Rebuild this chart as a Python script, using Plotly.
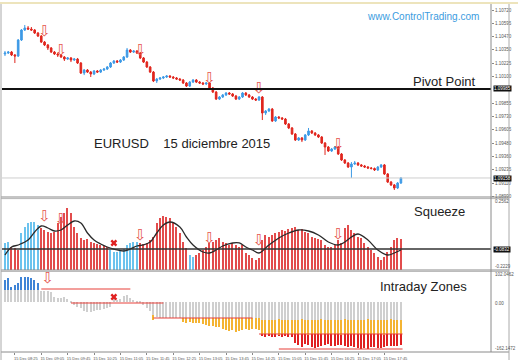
import plotly.graph_objects as go

# ---------------- data ----------------
opens = [
1.10311, 1.10320, 1.10329, 1.10302, 1.10292, 1.10441, 1.10534, 1.10553, 1.10543, 1.10534,
1.10506, 1.10478, 1.10422, 1.10395, 1.10367, 1.10329, 1.10311, 1.10302, 1.10283, 1.10264,
1.10274, 1.10255, 1.10264, 1.10227, 1.10134, 1.10162, 1.10143, 1.10125, 1.10153, 1.10143,
1.10162, 1.10171, 1.10190, 1.10227, 1.10246, 1.10236, 1.10255, 1.10283, 1.10348, 1.10329,
1.10339, 1.10320, 1.10274, 1.10236, 1.10190, 1.10143, 1.10060, 1.10078, 1.10088, 1.10097,
1.10106, 1.10097, 1.10088, 1.10078, 1.10069, 1.10041, 1.10013, 1.10050, 1.10069, 1.10050,
1.10041, 1.10032, 1.10041, 1.09995, 1.09957, 1.09892, 1.09911, 1.09930, 1.09948, 1.09939,
1.09920, 1.09892, 1.09911, 1.09948, 1.09930, 1.09911, 1.09892, 1.09883, 1.09911, 1.09762,
1.09781, 1.09799, 1.09688, 1.09725, 1.09716, 1.09706, 1.09660, 1.09623, 1.09567, 1.09511,
1.09530, 1.09511, 1.09558, 1.09595, 1.09576, 1.09558, 1.09539, 1.09483, 1.09446, 1.09409,
1.09427, 1.09446, 1.09381, 1.09325, 1.09297, 1.09260, 1.09288, 1.09297, 1.09279, 1.09269,
1.09260, 1.09251, 1.09246, 1.09232, 1.09260, 1.09279, 1.09195, 1.09120, 1.09093, 1.09065,
1.09111]
highs = [
1.10339, 1.10339, 1.10339, 1.10311, 1.10450, 1.10543, 1.10581, 1.10571, 1.10562, 1.10543,
1.10515, 1.10487, 1.10432, 1.10404, 1.10376, 1.10339, 1.10320, 1.10311, 1.10292, 1.10283,
1.10283, 1.10274, 1.10274, 1.10236, 1.10171, 1.10171, 1.10153, 1.10162, 1.10162, 1.10171,
1.10181, 1.10199, 1.10236, 1.10255, 1.10255, 1.10264, 1.10292, 1.10367, 1.10357, 1.10348,
1.10348, 1.10329, 1.10283, 1.10246, 1.10199, 1.10153, 1.10088, 1.10097, 1.10106, 1.10115,
1.10115, 1.10106, 1.10097, 1.10088, 1.10078, 1.10050, 1.10060, 1.10078, 1.10078, 1.10060,
1.10050, 1.10050, 1.10050, 1.10004, 1.09967, 1.09920, 1.09939, 1.09957, 1.09957, 1.09948,
1.09930, 1.09920, 1.09957, 1.09957, 1.09939, 1.09920, 1.09902, 1.09920, 1.09920, 1.09790,
1.09809, 1.09809, 1.09734, 1.09734, 1.09725, 1.09716, 1.09669, 1.09632, 1.09576, 1.09539,
1.09539, 1.09567, 1.09623, 1.09604, 1.09585, 1.09567, 1.09548, 1.09492, 1.09455, 1.09437,
1.09455, 1.09455, 1.09390, 1.09334, 1.09306, 1.09306, 1.09316, 1.09306, 1.09288, 1.09279,
1.09269, 1.09260, 1.09255, 1.09269, 1.09288, 1.09288, 1.09204, 1.09130, 1.09102, 1.09120,
1.09167]
lows = [
1.10292, 1.10311, 1.10292, 1.10227, 1.10283, 1.10432, 1.10525, 1.10534, 1.10525, 1.10497,
1.10469, 1.10413, 1.10385, 1.10348, 1.10320, 1.10302, 1.10283, 1.10274, 1.10246, 1.10255,
1.10236, 1.10246, 1.10218, 1.10125, 1.10115, 1.10134, 1.10097, 1.10115, 1.10134, 1.10134,
1.10153, 1.10162, 1.10181, 1.10218, 1.10227, 1.10227, 1.10246, 1.10274, 1.10320, 1.10320,
1.10311, 1.10264, 1.10227, 1.10181, 1.10134, 1.10050, 1.10041, 1.10069, 1.10078, 1.10088,
1.10088, 1.10078, 1.10069, 1.10060, 1.10032, 1.10004, 1.10004, 1.10041, 1.10041, 1.10032,
1.10022, 1.10022, 1.09985, 1.09948, 1.09883, 1.09883, 1.09902, 1.09920, 1.09930, 1.09911,
1.09883, 1.09883, 1.09902, 1.09920, 1.09902, 1.09883, 1.09874, 1.09874, 1.09697, 1.09744,
1.09771, 1.09679, 1.09679, 1.09706, 1.09697, 1.09651, 1.09613, 1.09558, 1.09502, 1.09502,
1.09492, 1.09502, 1.09548, 1.09567, 1.09548, 1.09530, 1.09474, 1.09372, 1.09400, 1.09400,
1.09418, 1.09372, 1.09316, 1.09288, 1.09251, 1.09158, 1.09279, 1.09269, 1.09260, 1.09251,
1.09241, 1.09237, 1.09223, 1.09223, 1.09251, 1.09186, 1.09111, 1.09083, 1.09046, 1.09055,
1.09102]
closes = [
1.10320, 1.10329, 1.10302, 1.10292, 1.10441, 1.10534, 1.10553, 1.10543, 1.10534, 1.10506,
1.10478, 1.10422, 1.10395, 1.10367, 1.10329, 1.10311, 1.10302, 1.10283, 1.10264, 1.10274,
1.10255, 1.10264, 1.10227, 1.10134, 1.10162, 1.10143, 1.10125, 1.10153, 1.10143, 1.10162,
1.10171, 1.10190, 1.10227, 1.10246, 1.10236, 1.10255, 1.10283, 1.10348, 1.10329, 1.10339,
1.10320, 1.10274, 1.10236, 1.10190, 1.10143, 1.10060, 1.10078, 1.10088, 1.10097, 1.10106,
1.10097, 1.10088, 1.10078, 1.10069, 1.10041, 1.10013, 1.10050, 1.10069, 1.10050, 1.10041,
1.10032, 1.10041, 1.09995, 1.09957, 1.09892, 1.09911, 1.09930, 1.09948, 1.09939, 1.09920,
1.09892, 1.09911, 1.09948, 1.09930, 1.09911, 1.09892, 1.09883, 1.09911, 1.09762, 1.09781,
1.09799, 1.09688, 1.09725, 1.09716, 1.09706, 1.09660, 1.09623, 1.09567, 1.09511, 1.09530,
1.09511, 1.09558, 1.09595, 1.09576, 1.09558, 1.09539, 1.09483, 1.09446, 1.09409, 1.09427,
1.09446, 1.09381, 1.09325, 1.09297, 1.09260, 1.09288, 1.09297, 1.09279, 1.09269, 1.09260,
1.09251, 1.09246, 1.09232, 1.09260, 1.09279, 1.09195, 1.09120, 1.09093, 1.09065, 1.09111,
1.09158]

pivot_level = 1.09985
price_ticks = [1.10720, 1.10595, 1.10470, 1.10350, 1.10225, 1.10100, 1.09855,
               1.09730, 1.09605, 1.09480, 1.09360, 1.09235, 1.09110, 1.08990]

time_tick_bars = [3, 11, 19, 27, 35, 43, 51, 59, 67, 75, 83, 91, 99, 107, 115]
time_tick_labels = ["15 Dec 08:25", "15 Dec 09:05", "15 Dec 09:45", "15 Dec 10:25",
                    "15 Dec 11:05", "15 Dec 11:45", "15 Dec 12:25", "15 Dec 13:05",
                    "15 Dec 13:45", "15 Dec 14:25", "15 Dec 15:05", "15 Dec 15:45",
                    "15 Dec 16:25", "15 Dec 17:05", "15 Dec 17:45"]

# Squeeze oscillator
squeeze_min, squeeze_max = -0.2229, 0.2562
squeeze_level = -0.0832
squeeze_vals = [
-0.0432, -0.0366, -0.0698, -0.0765, -0.0898, 0.0233, 0.0632, 0.0898, 0.0965, 0.0965,
0.0765, 0.0566, 0.0433, 0.0300, 0.0233, 0.0300, 0.0898, 0.1298, 0.1564, 0.1897,
0.1564, 0.0632, 0.0233, -0.0100, -0.0233, -0.0166, -0.0366, -0.0432, -0.0499, -0.0565,
-0.0632, -0.0698, -0.0898, -0.1031, -0.1031, -0.0965, -0.0832, -0.0565, -0.0432, -0.0366,
-0.0366, -0.0432, -0.0499, -0.0432, -0.0233, -0.0033, 0.0898, 0.1231, 0.1364, 0.1298,
0.1231, 0.0965, 0.0632, 0.0233, -0.0366, -0.0765, -0.1231, -0.1364, -0.1231, -0.1098,
-0.0898, -0.0698, -0.0432, -0.0366, -0.0233, -0.0100, -0.0366, -0.0432, -0.0565, -0.0432,
-0.0565, -0.0698, -0.0565, -0.1098, -0.1231, -0.1430, -0.1563, -0.1430, -0.0233, 0.0100,
-0.0033, 0.0100, 0.0233, 0.0300, 0.0433, 0.0366, 0.0499, 0.0566, 0.0632, 0.0433,
0.0499, 0.0300, 0.0233, -0.0033, -0.0100, -0.0166, -0.0233, -0.0565, -0.0698, -0.0698,
-0.0565, -0.0233, -0.0432, 0.0566, 0.0765, 0.0433, 0.0233, -0.0033, -0.0100, -0.0432,
-0.0698, -0.0898, -0.1098, -0.1364, -0.1563, -0.1364, -0.1031, -0.0698, -0.0233, -0.0100,
-0.0166]
squeeze_blue_bars = [0, 1, 5, 6, 7, 8, 9, 10, 32, 33, 34, 35, 36, 37, 38, 39, 40, 56, 57]
squeeze_line_bars = [0, 2, 4, 7, 9, 11, 13, 15, 17, 19, 21, 23, 25, 27, 29, 31, 33, 36, 38, 40,
                     42, 44, 46, 48, 50, 53, 55, 57, 60, 62, 64, 66, 69, 71, 73, 75, 77, 80,
                     83, 86, 89, 92, 95, 98, 101, 103, 105, 107, 110, 113, 116, 118, 120]
squeeze_line_vals = [-0.1231, -0.0698, -0.0565, -0.0233, 0.0300, 0.0699, 0.0566, 0.0366, 0.0433,
                     0.0765, 0.1032, 0.0898, 0.0233, -0.0233, -0.0499, -0.0698, -0.0832, -0.0965,
                     -0.0832, -0.0632, -0.0565, -0.0366, 0.0233, 0.0765, 0.0965, 0.0632, -0.0033,
                     -0.0565, -0.1031, -0.1098, -0.0898, -0.0632, -0.0432, -0.0432, -0.0698,
                     -0.0898, -0.1098, -0.0565, -0.0100, 0.0233, 0.0433, 0.0366, 0.0100, -0.0366,
                     -0.0565, -0.0366, -0.0033, 0.0167, -0.0233, -0.0898, -0.1231, -0.1098, -0.0898]

# Intraday Zones
zones_min, zones_max = -162.1472, 102.0462
zones_blue = [72.7, 79.2, 49.9, 56.4, 62.9, 82.5, 82.5, 82.5, 79.2, 72.7, 62.9]   # bars 0..10
zones_gray = [
40, 41, 39, 40, 40, 41, 40, 39, 40, 41, 40, 38,
37, 36, 34,
17, 15, 14, 16, 12,
4, -10, -16,
-18, -28, -31, -31, -28, -25, -25, -22, -20, -15,
10, 7, 12, 20, 23, 14, 7, 5, 3,
-10, -20, -30, -40, -48, -50, -51,
-51, -51, -52, -51, -51, -50, -51, -52, -51, -51,
-51, -52, -51, -51, -50, -51, -51, -52, -51, -51,
-51, -51, -52, -51, -51, -50, -51, -51, -52,
-57, -57, -58, -57, -57, -56, -57, -57, -58, -57,
-57, -57, -56, -57, -58, -57, -57, -57, -56, -57,
-57, -58, -57, -57, -57, -56, -57, -57, -58, -57,
-57, -57, -56, -57, -57, -58, -57, -57, -57, -56,
-57, -57, -58]
zones_orange_start = 45
zones_orange = [
-57, None, None, None, None, None, None, None, None,
-64, -66, -64, -67, -66, -68, -72, -74, -78, -76,
-80, -82, -86, -90, -94, -92, -96, -94, -90, -88,
-90, -86, -88, -90,
-104, -102, -105, -103, -104, -106, -103, -104, -105, -102,
-104, -103, -105, -104, -106, -104, -103, -105, -104, -102,
-104, -105, -103, -104, -106, -104, -103, -105, -104, -103,
-104, -102, -105, -104, -103, -105, -104, -106, -103, -104,
-105, -103, -104]
zones_red_start = 78
zones_red = [
-110, -112, -111, -113, -112, -110, -112, -111, -113, -112,
-133, -139, -146, -136, -140, -145, -149, -147, -142, -138,
-136, -141, -144, -140, -138, -142, -145, -143, -146, -150,
-152, -149, -151, -147, -145, -148, -150, -146, -143, -141,
-144, -142, -140]
zone_line_levels = [43.3, -2.3, -51.3, -103.5, -152.4]
zone_line_from = [11, 20, 45, 77, 83]
zone_line_to = [38, 48, 75, 120.5, 120.5]

# signals
price_arrow_bars = [12, 17, 41, 62, 77, 101]
price_arrow_vals = [1.10515, 1.10339, 1.10339, 1.10078, 1.09985, 1.09465]
squeeze_arrow_bars = [12, 17, 41, 62, 77, 101]
squeeze_arrow_vals = [0.1298, 0.1098, 0.0033, -0.0166, -0.0299, 0.0100]
zones_arrow_bars = [13]
zones_arrow_vals = [76]
squeeze_cross = (33, -0.0432)
zones_cross = (33, 17.2)

# ---------------- styling ----------------
FONT = "Liberation Sans, Arial, sans-serif"
C_UP = "#3d9ae6"
C_DN = "#e0261e"
SQ_BLUE = "#6cc3ee"
SQ_RED = "#e24c4c"
Z_BLUE = "#3f84d6"
Z_GRAY = "#cfcfcf"
Z_ORANGE = "#f4b432"
Z_RED = "#e02121"
ARROW = "#e5564e"
BORDER = "#8a8a8a"
ARROW_SIZE = 15

n = len(closes)
bars = list(range(n))
XR = [-0.9, 147.3]

fig = go.Figure()

fig.add_trace(go.Candlestick(
    x=bars, open=opens, high=highs, low=lows, close=closes,
    increasing=dict(line=dict(color=C_UP, width=1), fillcolor=C_UP),
    decreasing=dict(line=dict(color=C_DN, width=1), fillcolor=C_DN),
    whiskerwidth=0, xaxis="x", yaxis="y", hoverinfo="skip"))

fig.add_trace(go.Scatter(
    x=price_arrow_bars, y=price_arrow_vals, mode="text", text=["⇩"] * len(price_arrow_bars),
    textfont=dict(size=ARROW_SIZE, color=ARROW, family="DejaVu Sans"), xaxis="x", yaxis="y"))

# squeeze
sq_colors = [SQ_BLUE if i in squeeze_blue_bars else SQ_RED for i in bars]
fig.add_trace(go.Bar(
    x=bars, y=[v - squeeze_min for v in squeeze_vals], base=squeeze_min,
    marker=dict(color=sq_colors, line=dict(width=0)), width=0.45,
    xaxis="x2", yaxis="y2"))
fig.add_trace(go.Scatter(
    x=squeeze_line_bars, y=squeeze_line_vals, mode="lines",
    line=dict(color="#2a2a2a", width=1.3, shape="spline", smoothing=1.0),
    xaxis="x2", yaxis="y2"))
fig.add_trace(go.Scatter(
    x=squeeze_arrow_bars, y=squeeze_arrow_vals, mode="text", text=["⇩"] * len(squeeze_arrow_bars),
    textfont=dict(size=ARROW_SIZE, color=ARROW, family="DejaVu Sans"), xaxis="x2", yaxis="y2"))
fig.add_trace(go.Scatter(
    x=[squeeze_cross[0]], y=[squeeze_cross[1]], mode="markers",
    marker=dict(symbol="x", size=6, color=Z_RED, line=dict(width=0)), xaxis="x2", yaxis="y2"))

# intraday zones
fig.add_trace(go.Bar(
    x=list(range(zones_red_start, zones_red_start + len(zones_red))), y=zones_red,
    marker=dict(color=Z_RED, line=dict(width=0)), width=0.45, xaxis="x3", yaxis="y3"))
fig.add_trace(go.Bar(
    x=list(range(zones_orange_start, zones_orange_start + len(zones_orange))), y=zones_orange,
    marker=dict(color=Z_ORANGE, line=dict(width=0)), width=0.45, xaxis="x3", yaxis="y3"))
fig.add_trace(go.Bar(
    x=list(range(len(zones_blue))), y=zones_blue,
    marker=dict(color=Z_BLUE, line=dict(width=0)), width=0.45, xaxis="x3", yaxis="y3"))
fig.add_trace(go.Bar(
    x=bars, y=zones_gray,
    marker=dict(color=Z_GRAY, line=dict(width=0)), width=0.45, xaxis="x3", yaxis="y3"))
for lvl, a, b in zip(zone_line_levels, zone_line_from, zone_line_to):
    fig.add_trace(go.Scatter(x=[a, b], y=[lvl, lvl], mode="lines",
                             line=dict(color="#e8403a", width=1.2), xaxis="x3", yaxis="y3"))
fig.add_trace(go.Scatter(
    x=zones_arrow_bars, y=zones_arrow_vals, mode="text", text=["⇩"] * len(zones_arrow_bars),
    textfont=dict(size=ARROW_SIZE, color=ARROW, family="DejaVu Sans"), xaxis="x3", yaxis="y3"))
fig.add_trace(go.Scatter(
    x=[zones_cross[0]], y=[zones_cross[1]], mode="markers",
    marker=dict(symbol="x", size=6, color=Z_RED, line=dict(width=0)), xaxis="x3", yaxis="y3"))

# ---------------- layout ----------------
H_PLOT = 348.0
def py(pix):
    return (352 - pix) / H_PLOT
def px(pix):
    return (pix - 2) / 489.0

D_MAIN = [py(197), 1.0]
D_SQ = [py(270), py(198)]
D_Z = [0.0, py(271)]

axis_common = dict(showgrid=False, zeroline=False, showline=False)
fig.update_layout(
    width=518, height=362,
    margin=dict(l=2, r=27, t=4, b=10),
    paper_bgcolor="white", plot_bgcolor="white",
    showlegend=False, barmode="overlay", bargap=0,
    font=dict(family=FONT, color="#222"),
    xaxis=dict(domain=[0, 1], range=XR, anchor="y", showticklabels=False, ticks="",
               rangeslider=dict(visible=False), **axis_common),
    xaxis2=dict(domain=[0, 1], range=XR, anchor="y2", matches="x", showticklabels=False,
                ticks="", **axis_common),
    xaxis3=dict(domain=[0, 1], range=XR, anchor="y3", matches="x", tickmode="array",
                tickvals=time_tick_bars, ticktext=time_tick_labels, ticks="outside",
                ticklen=2, tickcolor="#888", ticklabelshift=11, tickangle=0,
                tickfont=dict(size=4, color="#555"), **axis_common),
    yaxis=dict(domain=D_MAIN, range=[1.08981, 1.10776], side="right", anchor="x",
               tickmode="array", tickvals=price_ticks,
               ticktext=["%.5f" % v for v in price_ticks], ticks="outside", ticklen=2,
               tickcolor="#888", tickfont=dict(size=4.5, color="#555"), **axis_common),
    yaxis2=dict(domain=D_SQ, range=[squeeze_min, squeeze_max], anchor="x2",
                showticklabels=False, ticks="", **axis_common),
    yaxis3=dict(domain=D_Z, range=[zones_min, zones_max], anchor="x3",
                showticklabels=False, ticks="", **axis_common),
)

shapes = []
# pivot & current price lines
shapes.append(dict(type="line", xref="x domain", yref="y", x0=0, x1=1, y0=pivot_level, y1=pivot_level,
                   line=dict(color="#111", width=2)))
shapes.append(dict(type="line", xref="x domain", yref="y", x0=0, x1=1, y0=closes[-1], y1=closes[-1],
                   line=dict(color="#cfcfcf", width=1)))
shapes.append(dict(type="line", xref="x2 domain", yref="y2", x0=0, x1=1, y0=squeeze_level,
                   y1=squeeze_level, line=dict(color="#333", width=1.5)))
# frames / separators
for yp, col in [(py(197), BORDER), (py(198.6), "#b5b5b5"), (py(270), BORDER), (py(271.4), "#b5b5b5"),
                (0.0, BORDER)]:
    shapes.append(dict(type="line", xref="paper", yref="paper", x0=px(1), x1=px(509), y0=yp, y1=yp,
                       line=dict(color=col, width=1)))
shapes.append(dict(type="line", xref="paper", yref="paper", x0=1, x1=1, y0=0, y1=1,
                   line=dict(color=BORDER, width=1)))
shapes.append(dict(type="line", xref="paper", yref="paper", x0=px(1), x1=px(1), y0=py(360), y1=1,
                   line=dict(color="#aaaaaa", width=1)))
shapes.append(dict(type="line", xref="paper", yref="paper", x0=px(509), x1=px(509), y0=py(360), y1=1,
                   line=dict(color="#aaaaaa", width=1)))
shapes.append(dict(type="line", xref="paper", yref="paper", x0=px(0), x1=px(518), y0=py(3), y1=py(3),
                   line=dict(color="#e7dba6", width=1.5)))
fig.update_layout(shapes=shapes)

ann = []
def label(text, x, y, size, color="#222", xanchor="left", yanchor="middle", **kw):
    ann.append(dict(text=text, x=x, y=y, xref="paper", yref="paper", showarrow=False,
                    xanchor=xanchor, yanchor=yanchor, font=dict(size=size, color=color, family=FONT), **kw))

label("www.ControlTrading.com", px(423), py(17), 10, color="#3b9ce0", xanchor="center")
label("Pivot Point", px(478), py(81), 13, xanchor="right")
label("EURUSD\u00a0\u00a0\u00a0\u00a015 diciembre 2015", px(92), py(143), 13)
label("Squeeze", px(412), py(212), 13)
label("Intraday Zones", px(378), py(286), 13)

# value boxes on the right scale
def box(text, pix_y):
    ann.append(dict(text=text, x=px(493), y=py(pix_y), xref="paper", yref="paper", showarrow=False,
                    xanchor="left", yanchor="middle", bgcolor="#111", borderpad=0,
                    font=dict(size=4.5, color="white", family=FONT)))
box("%.5f" % pivot_level, 89)
box("%.5f" % closes[-1], 178)
box("%.4f" % squeeze_level, 249)

def side(text, pix_y):
    label(text, px(493), py(pix_y), 4.5, color="#555")
side("%.4f" % squeeze_max, 201)
side("%.4f" % squeeze_min, 266)
side("%.4f" % zones_max, 274)
side("0.00", 303)
side("%.4f" % zones_min, 348)
fig.update_layout(annotations=ann)

fig.write_html("out.html", config={"displayModeBar": False},
               post_script="document.body.style.margin='0';document.body.style.overflow='hidden';")
